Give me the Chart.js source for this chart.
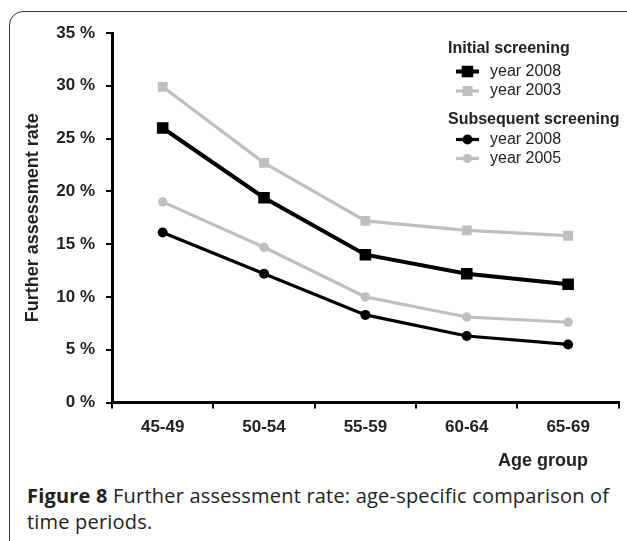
<!DOCTYPE html>
<html>
<head>
<meta charset="utf-8">
<script src="https://cdn.jsdelivr.net/npm/chart.js@4.4.0/dist/chart.umd.min.js"></script>
<style>
  html, body { margin: 0; padding: 0; background: #fff; overflow: hidden; }
  body { width: 627px; height: 541px; position: relative; }
  #frame {
    position: absolute; left: 9px; top: 11px; width: 640px; height: 600px;
    border: 1.5px solid #333; border-radius: 14px; box-sizing: border-box;
  }
  #wrap { position: absolute; left: 0; top: 0; width: 627px; height: 470px; }
  #axisTitleX {
    position: absolute; left: 498px; top: 450px;
    font: bold 18px "Liberation Sans", Arial, sans-serif; color: #222;
  }
  #caption {
    position: absolute; left: 27px; top: 483px; width: 600px; white-space: nowrap;
    font: 20px "Open Sans", sans-serif; color: #222; line-height: 26px; letter-spacing: 0.2px;
  }
</style>
</head>
<body>
<div id="frame"></div>
<div id="wrap"><canvas id="chart" width="627" height="470"></canvas></div>
<div id="axisTitleX">Age group</div>
<div id="caption"><b>Figure 8</b> Further assessment rate: age-specific comparison of<br>time periods.</div>
<script>
// age groups on the x axis
const ageGroups = ['45-49', '50-54', '55-59', '60-64', '65-69'];

// further assessment rate, percent
const initial2008 = [26.0, 19.4, 14.0, 12.2, 11.2];
const initial2003 = [29.9, 22.7, 17.2, 16.3, 15.8];
const subsequent2008 = [16.1, 12.2, 8.3, 6.3, 5.5];
const subsequent2005 = [19.0, 14.7, 10.0, 8.1, 7.6];

// y axis range
const yMin = 0;
const yMax = 35;
const yStep = 5;

const black = '#000000';
const grey = '#bfbfbf';
const fontFamily = '"Liberation Sans", Arial, sans-serif';

// legend drawn on the canvas, with two group headers
const legendPlugin = {
  id: 'groupedLegend',
  afterDraw(chart) {
    const ctx = chart.ctx;
    const ds = chart.data.datasets;
    const rows = [
      { header: 'Initial screening', y: 49 },
      { index: 0, y: 71.5 },
      { index: 1, y: 91 },
      { header: 'Subsequent screening', y: 120 },
      { index: 2, y: 139.5 },
      { index: 3, y: 158.5 }
    ];
    ctx.save();
    ctx.textBaseline = 'middle';
    ctx.textAlign = 'left';
    for (const row of rows) {
      if (row.header) {
        ctx.font = 'bold 16px ' + fontFamily;
        ctx.fillStyle = '#222';
        ctx.fillText(row.header, 448, row.y);
        continue;
      }
      const d = ds[row.index];
      ctx.strokeStyle = d.borderColor;
      ctx.lineWidth = d.borderWidth;
      ctx.beginPath();
      ctx.moveTo(456, row.y);
      ctx.lineTo(479, row.y);
      ctx.stroke();
      ctx.fillStyle = d.pointBackgroundColor;
      Chart.helpers.drawPoint(ctx, {
        pointStyle: d.pointStyle, radius: d.pointRadius, rotation: 0, borderWidth: 0
      }, 467.5, row.y);
      ctx.font = '16px ' + fontFamily;
      ctx.fillStyle = '#222';
      ctx.fillText(d.label, 490, row.y);
    }
    ctx.restore();
  }
};

function makeSet(label, data, color, style, radius, width) {
  return {
    label: label,
    data: data,
    borderColor: color,
    backgroundColor: color,
    borderWidth: width,
    pointStyle: style,
    pointRadius: radius,
    pointBackgroundColor: color,
    pointBorderWidth: 0,
    tension: 0,
    fill: false
  };
}

const ctx = document.getElementById('chart').getContext('2d');
new Chart(ctx, {
  type: 'line',
  data: {
    labels: ageGroups,
    datasets: [
      makeSet('year 2008', initial2008, black, 'rect', 8.2, 4),
      makeSet('year 2003', initial2003, grey, 'rect', 7, 3.2),
      makeSet('year 2008', subsequent2008, black, 'circle', 5, 3.2),
      makeSet('year 2005', subsequent2005, grey, 'circle', 4.7, 3.2)
    ]
  },
  options: {
    responsive: false,
    animation: false,
    devicePixelRatio: 1,
    layout: { padding: { left: 0, top: 33, right: 7.5, bottom: 27.5 } },
    plugins: {
      legend: { display: false },
      tooltip: { enabled: false }
    },
    scales: {
      x: {
        type: 'category',
        offset: true,
        afterFit(scale) { scale.height = 40; },
        grid: { offset: true, drawOnChartArea: false, drawTicks: true, tickLength: 6, color: black, lineWidth: 2 },
        border: { color: black, width: 3 },
        ticks: { color: '#222', font: { family: fontFamily, size: 17, weight: 'bold' }, padding: 9 }
      },
      y: {
        min: yMin,
        max: yMax,
        afterFit(scale) { scale.width = 112; },
        grid: { drawOnChartArea: false, drawTicks: true, tickLength: 6, color: black, lineWidth: 2 },
        border: { color: black, width: 3 },
        ticks: {
          stepSize: yStep,
          color: '#222',
          padding: 11,
          font: { family: fontFamily, size: 17, weight: 'bold' },
          callback: v => v + ' %'
        },
        title: {
          display: true,
          text: 'Further assessment rate',
          color: '#222',
          font: { family: fontFamily, size: 18, weight: 'bold' },
          padding: { top: 22, bottom: 0 }
        }
      }
    }
  },
  plugins: [legendPlugin]
});
</script>
</body>
</html>
